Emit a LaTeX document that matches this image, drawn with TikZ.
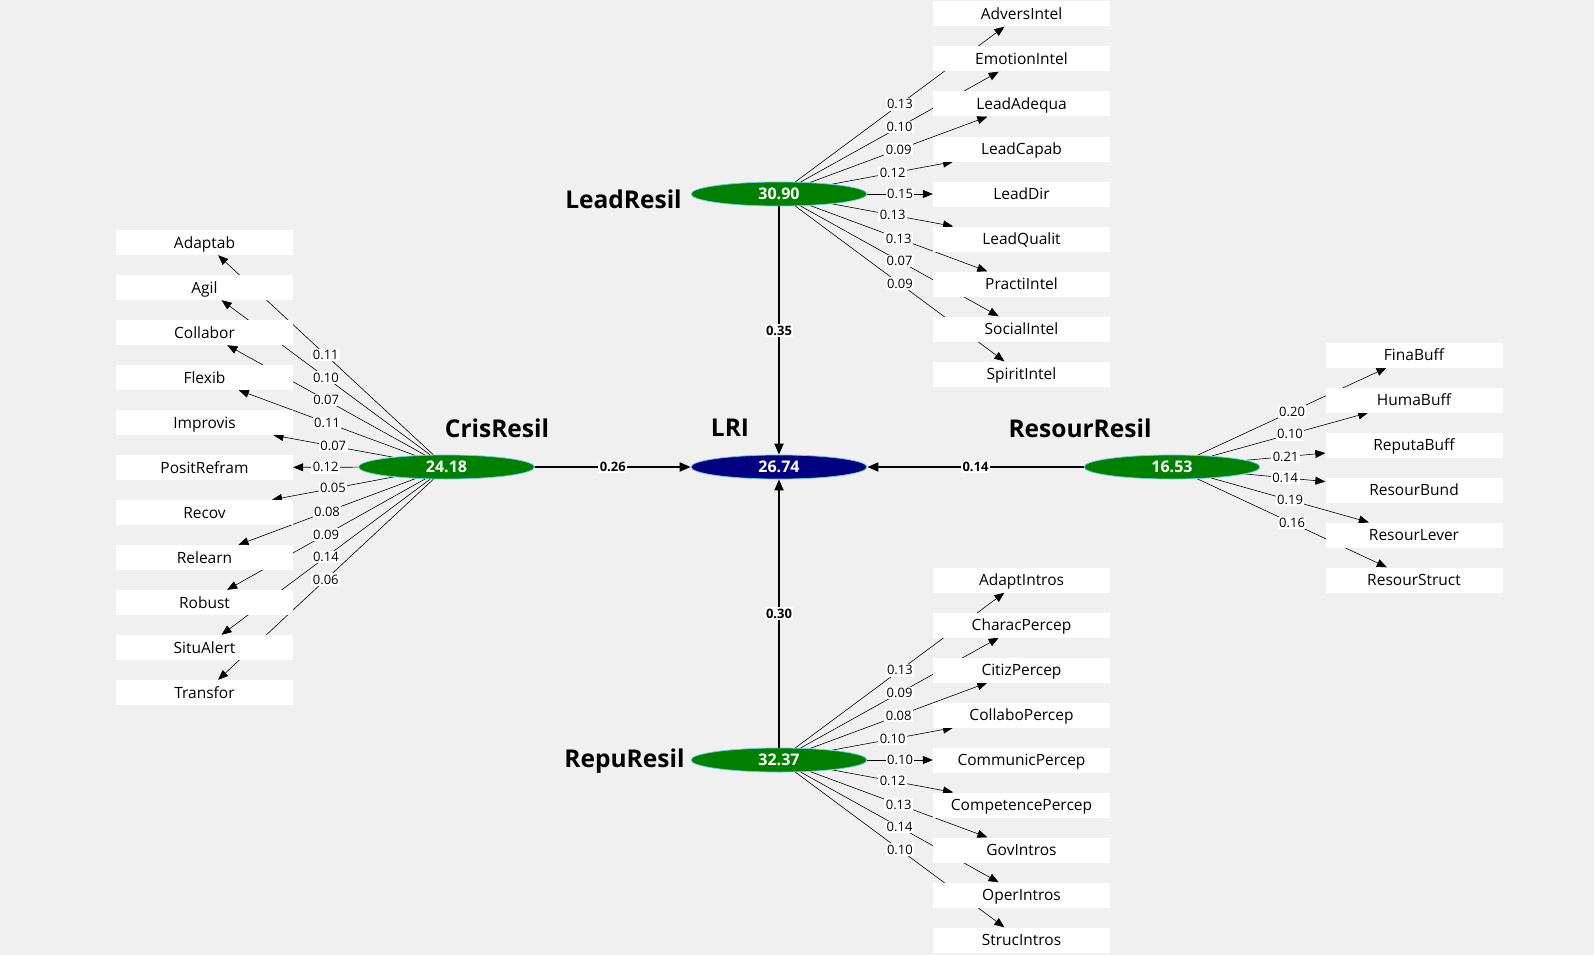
\documentclass[tikz,border=0pt]{standalone}
\usepackage{fontspec}
\setmainfont{Open Sans}
\usetikzlibrary{shapes.geometric,arrows.meta}
\definecolor{bgcol}{HTML}{F0F0F0}
\definecolor{lvgreen}{HTML}{008000}
\definecolor{lvnavy}{HTML}{000080}
\definecolor{lvrim}{HTML}{66CCEE}
\pgfdeclarelayer{bg}
\pgfsetlayers{bg,main}
\begin{document}
\begin{tikzpicture}[x=1pt, y=-1pt,
    lv/.style={ellipse, fill=lvgreen, draw=lvrim, line width=0.7pt, minimum width=176pt,
      minimum height=24pt, inner sep=0pt, text=white, font=\fontsize{16}{16}\selectfont\bfseries},
    lvname/.style={font=\fontsize{24.5}{24.5}\selectfont\bfseries},
    ind/.style={fill=white, minimum width=177pt, minimum height=25pt, inner sep=0pt,
      text height=12pt, text depth=1pt, font=\fontsize{15.5}{15.5}\selectfont},
    wt/.style={fill=white, inner sep=1.5pt, font=\fontsize{13}{13}\selectfont},
    wtb/.style={wt, font=\fontsize{13}{13}\selectfont\bfseries},
    load/.style={-{Triangle[length=10pt,width=8pt]}, line width=0.6pt},
    struct/.style={-{Triangle[length=11pt,width=9pt]}, line width=1.8pt}]
    \begin{pgfonlayer}{bg}
      \fill[bgcol] (0,0) rectangle (1594,955);
    \end{pgfonlayer}

    % latente variabelen
    \node[lv] (Lead) at (779,194) {30.90};
    \node[lv, fill=lvnavy] (LRI) at (779,467) {26.74};
    \node[lv] (Repu) at (779,760) {32.37};
    \node[lv] (Cris) at (446.5,467) {24.18};
    \node[lv] (Resour) at (1172,467) {16.53};

    \node[lvname] (LeadName) at (623.5,199) {LeadResil};
    \node[lvname] (RepuName) at (624.5,761) {RepuResil};
    \node[lvname] (CrisName) at (497,428) {CrisResil};
    \node[lvname] (LRIName) at (730,428) {LRI};
    \node[lvname] (ResourName) at (1080,428) {ResourResil};

    % structureel model
    \draw[struct] (Lead) -- node[wtb] {0.35} (LRI);
    \draw[struct] (Repu) -- node[wtb] {0.30} (LRI);
    \draw[struct] (Cris) -- node[wtb] {0.26} (LRI);
    \draw[struct] (Resour) -- node[wtb] {0.14} (LRI);

    % CrisResil indicatoren
    \foreach \nm/\w [count=\i] in {Adaptab/0.11, Agil/0.10, Collabor/0.07, Flexib/0.11,
        Improvis/0.07, PositRefram/0.12, Recov/0.05, Relearn/0.08, Robust/0.09,
        SituAlert/0.14, Transfor/0.06} {
      \node[ind] (\nm) at (204.5,197.5+45*\i) {\nm};
      \begin{pgfonlayer}{bg}
        \draw[load] (Cris) -- node[wt] {\w} (\nm);
      \end{pgfonlayer}
    }

    % LeadResil indicatoren
    \foreach \nm/\w [count=\i] in {AdversIntel/0.13, EmotionIntel/0.10, LeadAdequa/0.09,
        LeadCapab/0.12, LeadDir/0.15, LeadQualit/0.13, PractiIntel/0.13,
        SocialIntel/0.07, SpiritIntel/0.09} {
      \node[ind] (\nm) at (1021.5,-31+45*\i) {\nm};
      \begin{pgfonlayer}{bg}
        \draw[load] (Lead) -- node[wt] {\w} (\nm);
      \end{pgfonlayer}
    }

    % RepuResil indicatoren
    \foreach \nm/\w [count=\i] in {AdaptIntros/0.13, CharacPercep/0.09, CitizPercep/0.08,
        CollaboPercep/0.10, CommunicPercep/0.10, CompetencePercep/0.12,
        GovIntros/0.13, OperIntros/0.14, StrucIntros/0.10} {
      \node[ind] (\nm) at (1021.5,535+45*\i) {\nm};
      \begin{pgfonlayer}{bg}
        \draw[load] (Repu) -- node[wt] {\w} (\nm);
      \end{pgfonlayer}
    }

    % ResourResil indicatoren
    \foreach \nm/\w [count=\i] in {FinaBuff/0.20, HumaBuff/0.10, ReputaBuff/0.21,
        ResourBund/0.14, ResourLever/0.19, ResourStruct/0.16} {
      \node[ind] (\nm) at (1414,310+45*\i) {\nm};
      \begin{pgfonlayer}{bg}
        \draw[load] (Resour) -- node[wt] {\w} (\nm);
      \end{pgfonlayer}
    }
\end{tikzpicture}
\end{document}
